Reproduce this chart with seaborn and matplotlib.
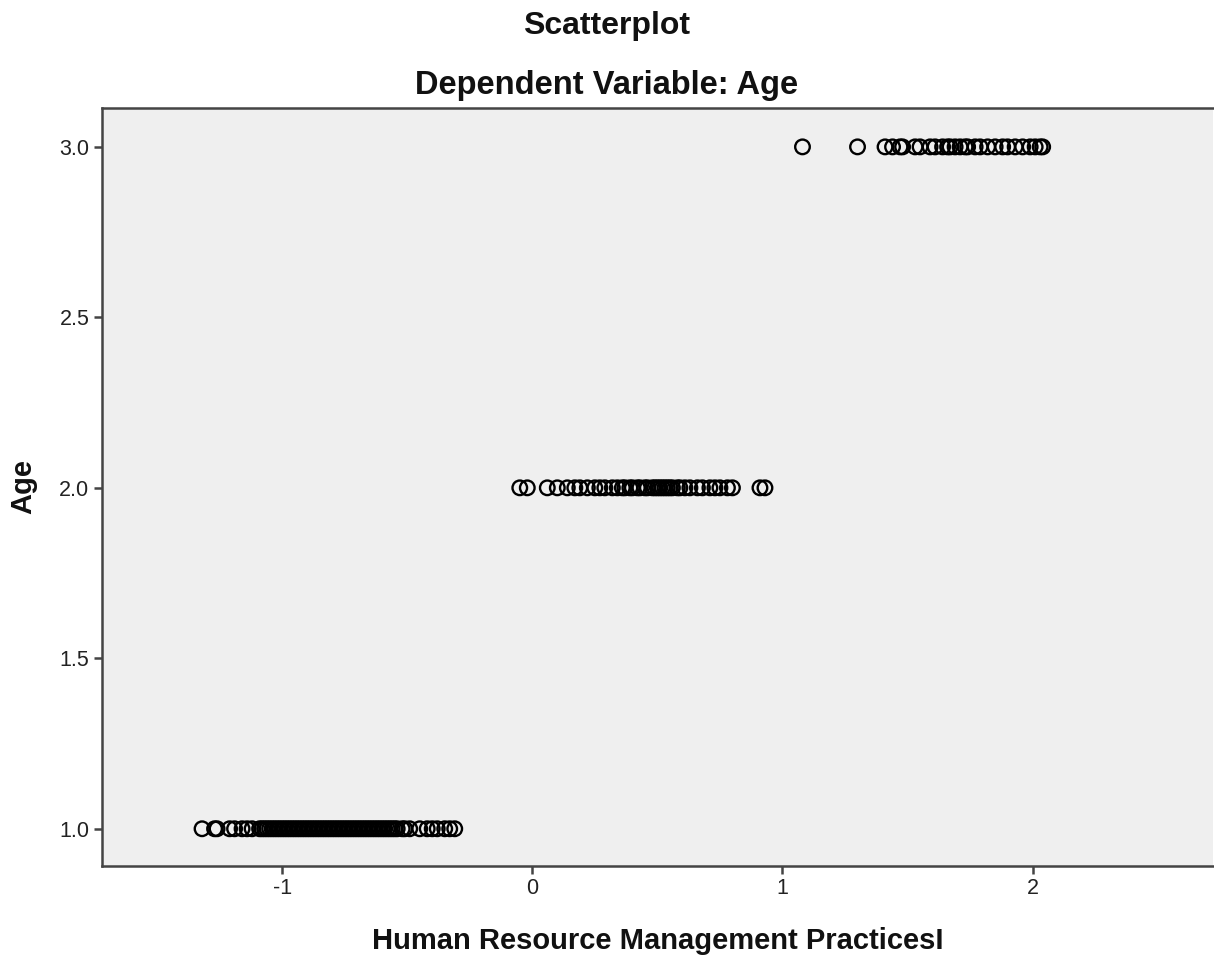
import matplotlib
matplotlib.use("Agg")
import matplotlib.pyplot as plt
import seaborn as sns
import pandas as pd

# Data
hrm_age1 = [-1.32, -1.27, -1.26, -1.21, -1.19, -1.16, -1.14, -1.12, -1.09, -1.08,
            -1.07, -1.06, -1.05, -1.04, -1.03, -1.02, -1.01, -1.00, -0.99, -0.98,
            -0.97, -0.96, -0.95, -0.94, -0.93, -0.92, -0.91, -0.90, -0.89, -0.88,
            -0.87, -0.86, -0.85, -0.84, -0.83, -0.82, -0.81, -0.80, -0.79, -0.78,
            -0.77, -0.76, -0.75, -0.74, -0.73, -0.72, -0.71, -0.70, -0.69, -0.68,
            -0.67, -0.66, -0.65, -0.64, -0.63, -0.62, -0.61, -0.60, -0.59, -0.58,
            -0.57, -0.56, -0.55, -0.54, -0.52, -0.51, -0.49, -0.45, -0.42,
            -0.40, -0.38, -0.35, -0.33, -0.31]
hrm_age2 = [-0.05, -0.02, 0.06, 0.10, 0.14, 0.17, 0.19, 0.22, 0.25, 0.27, 0.29,
            0.32, 0.34, 0.36, 0.37, 0.39, 0.40, 0.42, 0.43, 0.45, 0.46, 0.48,
            0.49, 0.50, 0.51, 0.52, 0.53, 0.54, 0.55, 0.56, 0.58, 0.59, 0.61,
            0.63, 0.66, 0.68, 0.71, 0.73, 0.75, 0.78, 0.80, 0.91, 0.93]
hrm_age3 = [1.08, 1.30, 1.41, 1.44, 1.47, 1.48, 1.53, 1.55, 1.59, 1.61, 1.64,
            1.66, 1.67, 1.69, 1.71, 1.73, 1.74, 1.77, 1.79, 1.82, 1.85, 1.88,
            1.90, 1.93, 1.96, 1.99, 2.01, 2.03, 2.04]
age_levels = [1.0, 2.0, 3.0]
x_ticks = [-1, 0, 1, 2]
y_ticks = [1.0, 1.5, 2.0, 2.5, 3.0]

x_vals = hrm_age1 + hrm_age2 + hrm_age3
y_vals = ([age_levels[0]] * len(hrm_age1) + [age_levels[1]] * len(hrm_age2)
          + [age_levels[2]] * len(hrm_age3))
df = pd.DataFrame({"HRM": x_vals, "Age": y_vals})

sns.set_theme(style="white")
plt.rcParams['font.family'] = ['Liberation Sans', 'DejaVu Sans']

fig = plt.figure(figsize=(12.14, 9.6), dpi=100)
ax = fig.add_axes([0.084, 0.098, 0.915, 0.7895])
ax.set_facecolor("#efefef")

sns.scatterplot(data=df, x="HRM", y="Age", ax=ax, marker="o",
                facecolor="none", edgecolor="black", linewidth=1.7, s=110,
                legend=False)

ax.set_xlim(-1.72, 2.72)
ax.set_ylim(0.891, 3.114)
ax.set_xticks(x_ticks)
ax.set_xticklabels([str(t) for t in x_ticks])
ax.set_yticks(y_ticks)
ax.set_yticklabels([f"{t:.1f}" for t in y_ticks])
ax.tick_params(axis="both", direction="out", length=6, width=1.8,
               color="#444444", labelsize=15.5, labelcolor="#222222", pad=3)
ax.tick_params(axis="x", bottom=True)
ax.tick_params(axis="y", left=True)
for side in ["left", "bottom", "top"]:
    ax.spines[side].set_color("#444444")
    ax.spines[side].set_linewidth(1.8)
ax.spines["right"].set_visible(False)

ax.set_xlabel("Human Resource Management PracticesI", fontsize=21,
              fontweight="bold", labelpad=20, color="#111111")
ax.set_ylabel("Age", fontsize=21, fontweight="bold", labelpad=16, color="#111111")

fig.text(0.5, 0.973, "Scatterplot", ha="center", va="center", fontsize=23,
         fontweight="bold", color="#111111")
fig.text(0.5, 0.911, "Dependent Variable: Age", ha="center", va="center",
         fontsize=23.5, fontweight="bold", color="#111111")

fig.savefig("out.png", dpi=100)
